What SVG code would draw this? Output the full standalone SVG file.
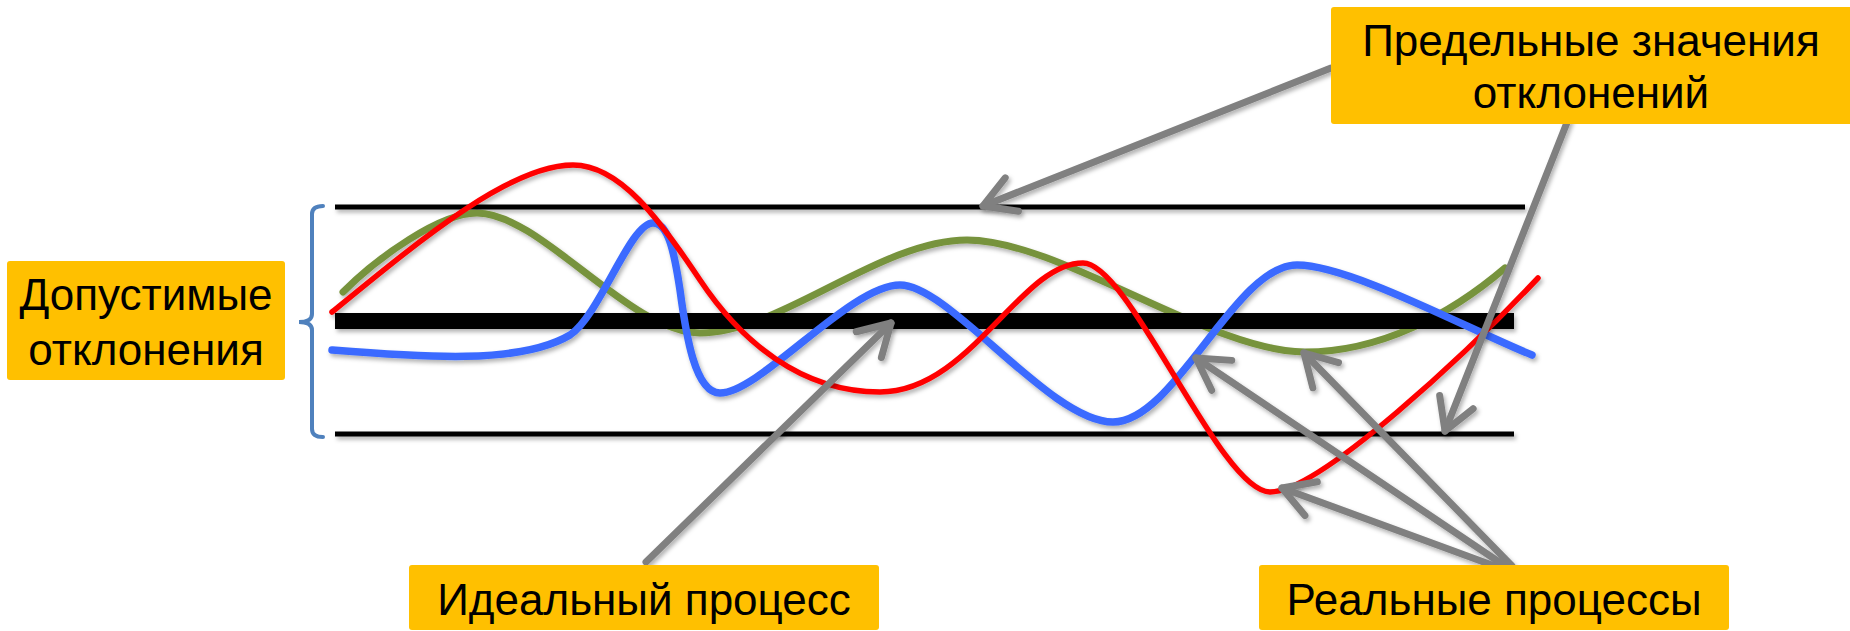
<svg xmlns="http://www.w3.org/2000/svg" width="1850" height="631" viewBox="0 0 1850 631">
<style>
.box{fill:#FFC000}
.lbl{font-family:"Liberation Sans",Arial,sans-serif;font-size:44px;fill:#000;text-anchor:middle}
.lim{stroke:#000;stroke-width:5;fill:none}
.ideal{stroke:#000;stroke-width:16;fill:none}
.c{fill:none;stroke-linecap:round;stroke-linejoin:round}
.arr{stroke:#808080;stroke-width:7;fill:none;stroke-linecap:round;marker-end:url(#ah)}
</style>
<defs>
<filter id="sh" filterUnits="userSpaceOnUse" x="0" y="0" width="1850" height="631">
<feDropShadow dx="2" dy="3" stdDeviation="2" flood-color="#000" flood-opacity="0.3"/>
</filter>
<marker id="ah" markerUnits="userSpaceOnUse" markerWidth="50" markerHeight="50" viewBox="-40 -25 50 50" refX="0" refY="0" orient="auto">
<path d="M -31 -18 L 0 0 L -31 18" fill="none" stroke="#808080" stroke-width="7" stroke-linecap="round" stroke-linejoin="round"/>
</marker>
</defs>
<rect width="1850" height="631" fill="#fff"/>

<g id="chart" filter="url(#sh)">
<path id="green" class="c" stroke="#77933C" stroke-width="7" d="M 343 292 C 378 257 440 213 477 213 C 540 213 630 333 700 333 C 780 333 880 240 967 240 C 1060 240 1210 352 1305 352 C 1380 352 1450 315 1505 268"/>
<line class="lim" x1="335" y1="207" x2="1525" y2="207"/>
<line class="ideal" x1="335" y1="321" x2="1514" y2="321"/>
<line class="lim" x1="335" y1="434" x2="1514" y2="434"/>
<path id="blue" class="c" stroke="#3A6BFF" stroke-width="7.5" d="M 332 350 C 420 357 520 365 570 335 C 600 315 630 223 653 223 C 668 223 674 250 680 290 C 686 335 695 393 720 393 C 760 393 850 285 900 285 C 950 285 1050 422 1113 422 C 1175 422 1235 265 1297 265 C 1350 265 1470 330 1532 355"/>
<path id="red" class="c" stroke="#FF0000" stroke-width="5.5" d="M 332 312 C 420 240 510 165 573 165 C 620 165 660 220 700 280 C 740 340 800 392 880 392 C 970 392 1020 263 1083 263 C 1130 263 1220 492 1270 492 C 1320 492 1470 350 1538 278"/>
</g>

<path id="brace" d="M 323 206 Q 312 206 312 214 L 312 314 Q 312 322 299 322 Q 312 322 312 330 L 312 429 Q 312 437 323 437" fill="none" stroke="#4F81BD" stroke-width="4" stroke-linecap="round"/>

<g id="connectors" filter="url(#sh)">
<line class="arr" x1="1331" y1="68" x2="983" y2="206"/>
<line class="arr" x1="1568" y1="120" x2="1445" y2="431"/>
<line class="arr" x1="646" y1="562" x2="891" y2="323"/>
<line class="arr" x1="1505" y1="566" x2="1196" y2="358"/>
<line class="arr" x1="1512" y1="566" x2="1304" y2="353"/>
<line class="arr" x1="1500" y1="568" x2="1282" y2="488"/>
</g>

<g id="node-dopustimye">
<rect class="box" x="7" y="261" width="278" height="119" rx="3"/>
<text class="lbl" x="146" y="310">Допустимые</text>
<text class="lbl" x="146" y="365">отклонения</text>
</g>
<g id="node-predelnye">
<rect class="box" x="1331" y="7" width="522" height="117" rx="3"/>
<text class="lbl" x="1591" y="56">Предельные значения</text>
<text class="lbl" x="1591" y="108">отклонений</text>
</g>
<g id="node-idealny">
<rect class="box" x="409" y="565" width="470" height="65" rx="3"/>
<text class="lbl" x="644" y="615">Идеальный процесс</text>
</g>
<g id="node-realnye">
<rect class="box" x="1259" y="565" width="470" height="65" rx="3"/>
<text class="lbl" x="1494" y="615">Реальные процессы</text>
</g>
</svg>
